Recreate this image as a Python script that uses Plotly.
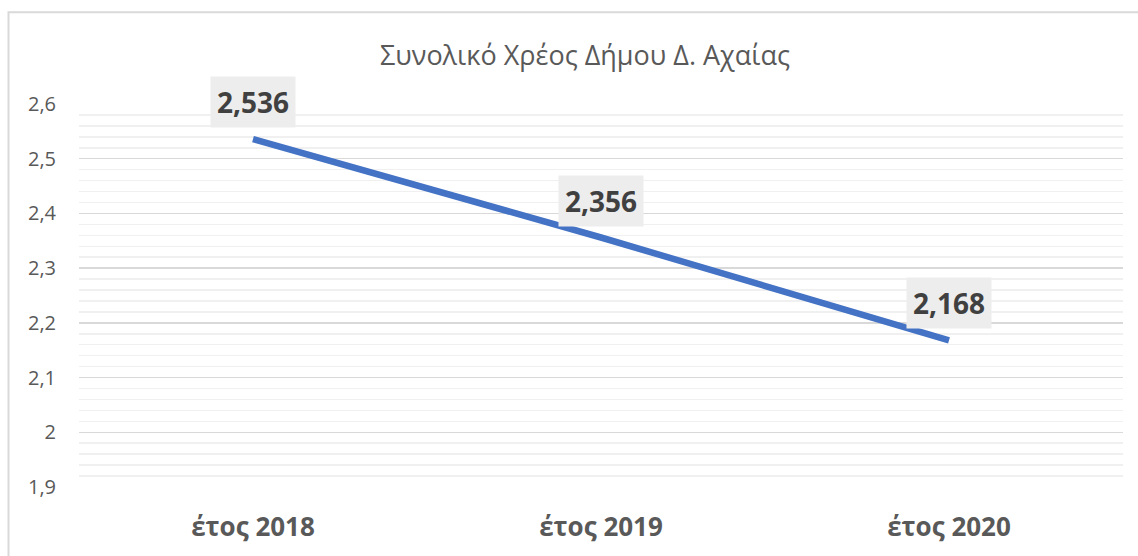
import plotly.graph_objects as go

categories = ["έτος 2018", "έτος 2019", "έτος 2020"]
values = [2.536, 2.356, 2.168]
value_labels = ["2,536", "2,356", "2,168"]
title_text = "Συνολικό Χρέος Δήμου Δ. Αχαίας"

W, H = 1138, 556
ML, MR, MT, MB = 79, 15, 104, 66
PW, PH = W - ML - MR, H - MT - MB

fig = go.Figure()
fig.add_trace(go.Scatter(
    x=categories, y=values, mode="lines",
    line=dict(color="#4472C4", width=6.5),
    hoverinfo="skip", showlegend=False,
))

for c, v, t in zip(categories, values, value_labels):
    fig.add_annotation(
        x=c, y=v, text=f"<b>{t}</b>", showarrow=False,
        yshift=37, yanchor="middle", xanchor="center",
        bgcolor="#ededed", borderpad=6,
        font=dict(family="Open Sans", size=28, color="#404040"),
    )

# chart border (top and left edges visible)
fig.add_shape(
    type="rect", xref="paper", yref="paper",
    x0=(8.5 - ML) / PW, x1=(W + 10 - ML) / PW,
    y0=(MT + PH - (H + 10)) / PH, y1=(MT + PH - 11.5) / PH,
    line=dict(color="#d9d9d9", width=2), fillcolor="rgba(0,0,0,0)",
    layer="below",
)

fig.update_layout(
    width=W, height=H,
    margin=dict(l=ML, r=MR, t=MT, b=MB),
    paper_bgcolor="white", plot_bgcolor="white",
    separators=",.",
    title=dict(
        text=title_text, x=585 / W, xref="container", xanchor="center",
        y=1 - 56 / H, yref="container", yanchor="middle",
        font=dict(family="Open Sans", size=27, color="#595959"),
    ),
    xaxis=dict(
        showgrid=False, zeroline=False, showline=False, ticks="",
        range=[-0.5, 2.5],
        tickfont=dict(family="Open Sans", size=26, color="#595959", weight="bold"),
        ticklabelstandoff=22,
    ),
    yaxis=dict(
        range=[1.9, 2.6], dtick=0.1, tick0=1.9,
        showgrid=True, gridcolor="#d9d9d9", gridwidth=1.5,
        zeroline=False, showline=False, ticks="",
        tickfont=dict(family="Open Sans", size=20, color="#595959"),
        ticklabelstandoff=22,
        minor=dict(dtick=0.02, showgrid=True, gridcolor="#f0f0f0", gridwidth=1.5),
    ),
)

fig.write_html(
    "out.html",
    config={"displayModeBar": False, "staticPlot": True},
    post_script="document.body.style.margin='0';document.body.style.overflow='hidden';",
)
